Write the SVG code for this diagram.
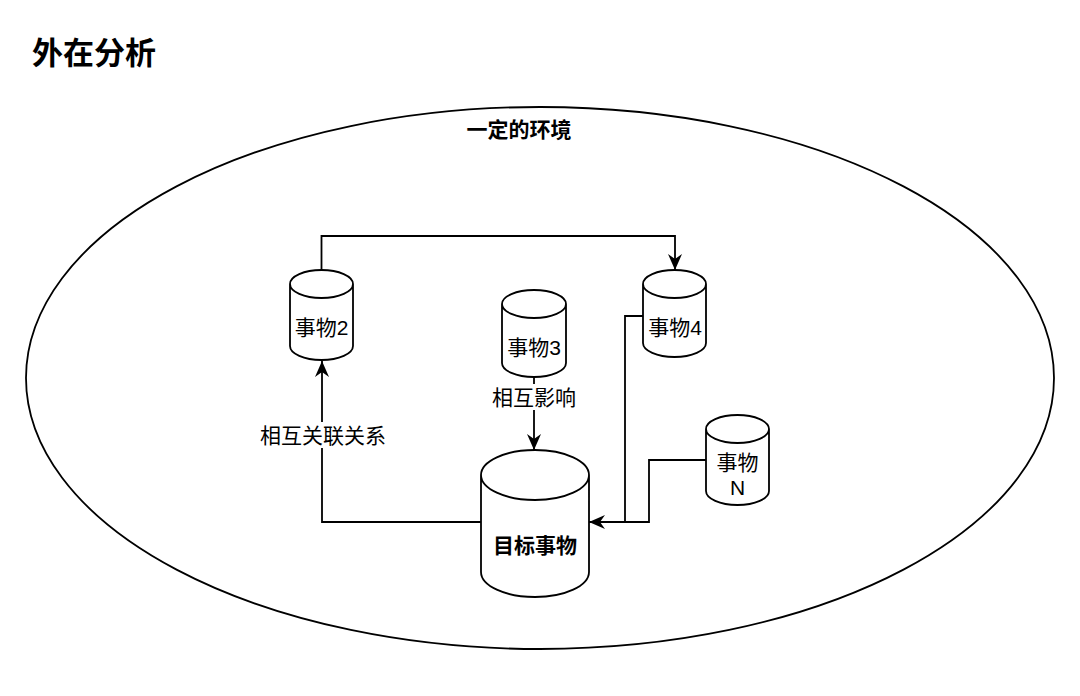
<svg xmlns="http://www.w3.org/2000/svg" width="1080" height="696" viewBox="0 0 1080 696">
<defs>
<style>
.cyl{fill:#fff;stroke:#000;stroke-width:1.8}
.edge{fill:none;stroke:#000;stroke-width:1.8}
.lbl{font-family:"Liberation Sans","Noto Sans CJK SC",sans-serif;font-size:21px;fill:#000;text-anchor:middle}
.b{font-weight:bold}
</style>
<marker id="arr" markerUnits="userSpaceOnUse" markerWidth="16" markerHeight="14" refX="16" refY="7" orient="auto">
<path d="M0,0 L16,7 L0,14 L5,7 Z" fill="#000"/>
</marker>
</defs>
<rect width="1080" height="696" fill="#fff"/>
<text x="32" y="64" style="font-family:'Noto Sans CJK SC',sans-serif;font-size:31px;font-weight:bold">外在分析</text>
<g id="env">
<ellipse cx="540" cy="378" rx="514" ry="271" fill="none" stroke="#000" stroke-width="1.8"/>
<text class="lbl b" x="519" y="137">一定的环境</text>
</g>
<g id="connectors">
<path class="edge" d="M321.5,270 V236 H675 V270" marker-end="url(#arr)"/>
<path class="edge" d="M534,377 V450" marker-end="url(#arr)"/>
<path class="edge" d="M481,522 H322 V361" marker-end="url(#arr)"/>
<path class="edge" d="M706,460 H649 V522 H589" marker-end="url(#arr)"/>
<path class="edge" d="M643,316 H625 V522"/>
<rect x="484" y="384" width="100" height="26" fill="#fff"/>
<text class="lbl" x="534" y="405">相互影响</text>
<rect x="254" y="422" width="138" height="26" fill="#fff"/>
<text class="lbl" x="323" y="443">相互关联关系</text>
</g>
<g id="node2">
<path class="cyl" d="M290,284 A31.5,14 0 0 1 353,284 L353,346 A31.5,14 0 0 1 290,346 Z M290,284 A31.5,14 0 0 0 353,284"/>
<text class="lbl" x="321.5" y="335">事物2</text>
</g>
<g id="node4">
<path class="cyl" d="M643,284 A31.5,14 0 0 1 706,284 L706,343 A31.5,14 0 0 1 643,343 Z M643,284 A31.5,14 0 0 0 706,284"/>
<text class="lbl" x="675" y="335">事物4</text>
</g>
<g id="node3">
<path class="cyl" d="M502,304 A32,14 0 0 1 566,304 L566,363 A32,14 0 0 1 502,363 Z M502,304 A32,14 0 0 0 566,304"/>
<text class="lbl" x="534" y="355">事物3</text>
</g>
<g id="nodeN">
<path class="cyl" d="M706,429 A31.5,14 0 0 1 769,429 L769,491 A31.5,14 0 0 1 706,491 Z M706,429 A31.5,14 0 0 0 769,429"/>
<text class="lbl" x="737.5" y="470">事物</text>
<text class="lbl" x="737.5" y="495">N</text>
</g>
<g id="target">
<path class="cyl" d="M481,475 A54,25 0 0 1 589,475 L589,572 A54,25 0 0 1 481,572 Z M481,475 A54,25 0 0 0 589,475"/>
<text class="lbl b" x="535" y="553">目标事物</text>
</g>
</svg>
